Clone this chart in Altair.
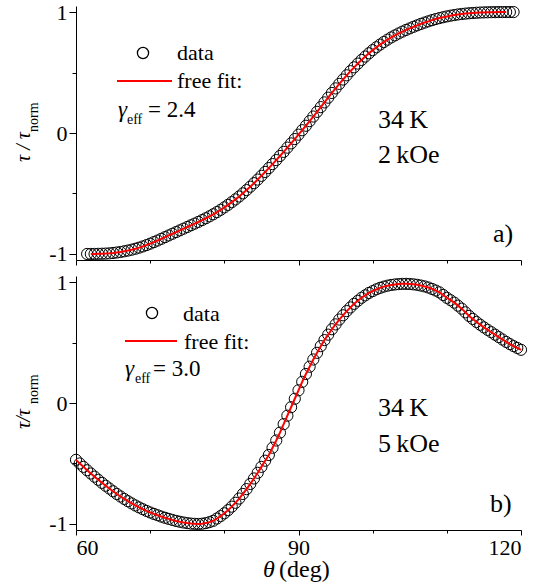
import altair as alt
import pandas as pd

FONT = "Liberation Serif"

# ---- panel a) 34 K, 2 kOe : theta grid starts at 61.5 deg, step 0.5 deg
theta_a_start = 61.5
tau_a = [
    -1.000, -1.000, -1.000, -0.999, -0.998, -0.997, -0.995, -0.992, -0.988, -0.984,
    -0.978, -0.972, -0.965, -0.957, -0.948, -0.938, -0.927, -0.915, -0.902, -0.889,
    -0.875, -0.861, -0.847, -0.833, -0.819, -0.805, -0.791, -0.777, -0.763, -0.749,
    -0.735, -0.720, -0.705, -0.689, -0.672, -0.654, -0.635, -0.615, -0.594, -0.572,
    -0.549, -0.525, -0.499, -0.472, -0.444, -0.415, -0.385, -0.354, -0.322, -0.290,
    -0.257, -0.224, -0.190, -0.156, -0.121, -0.086, -0.050, -0.014, 0.023, 0.060,
    0.098, 0.136, 0.175, 0.214, 0.253, 0.292, 0.331, 0.369, 0.406, 0.442,
    0.477, 0.511, 0.543, 0.574, 0.604, 0.632, 0.659, 0.685, 0.709, 0.731,
    0.752, 0.772, 0.790, 0.807, 0.823, 0.838, 0.852, 0.865, 0.878, 0.890,
    0.902, 0.913, 0.923, 0.933, 0.942, 0.950, 0.957, 0.964, 0.970, 0.975,
    0.980, 0.984, 0.987, 0.990, 0.992, 0.994, 0.996, 0.997, 0.998, 0.999,
    0.999, 1.000, 1.000, 1.000, 1.000, 1.000,
]
fit_a_range = [62.0, 118.0]

# ---- panel b) 34 K, 5 kOe : theta grid starts at 60 deg, step 0.5 deg
theta_b_start = 60.0
tau_b = [
    -0.470, -0.500, -0.528, -0.556, -0.583, -0.609, -0.635, -0.660, -0.684, -0.707,
    -0.730, -0.752, -0.773, -0.793, -0.812, -0.830, -0.847, -0.863, -0.878, -0.892,
    -0.905, -0.917, -0.928, -0.939, -0.949, -0.958, -0.967, -0.975, -0.982, -0.988,
    -0.993, -0.997, -0.999, -1.000, -0.998, -0.993, -0.985, -0.974, -0.955, -0.935,
    -0.912, -0.886, -0.857, -0.825, -0.790, -0.752, -0.712, -0.669, -0.624, -0.577,
    -0.528, -0.477, -0.430, -0.370, -0.310, -0.245, -0.175, -0.105, -0.035, 0.035,
    0.105, 0.175, 0.240, 0.300, 0.360, 0.415, 0.470, 0.520, 0.565, 0.610,
    0.650, 0.690, 0.725, 0.760, 0.790, 0.820, 0.845, 0.870, 0.890, 0.910,
    0.925, 0.940, 0.952, 0.962, 0.970, 0.976, 0.980, 0.983, 0.985, 0.985,
    0.984, 0.981, 0.977, 0.971, 0.964, 0.955, 0.943, 0.930, 0.915, 0.893,
    0.870, 0.850, 0.830, 0.805, 0.780, 0.750, 0.720, 0.695, 0.670, 0.647,
    0.625, 0.605, 0.585, 0.565, 0.545, 0.525, 0.505, 0.487, 0.470, 0.455,
    0.440,
]
fit_b_range = [60.0, 120.0]

x_ticks = [60, 70, 80, 90, 100, 110, 120]
y_ticks = [-1, -0.5, 0, 0.5, 1]

legend_labels = ["data", "free fit:"]
gamma_a = "= 2.4"
gamma_b = "= 3.0"
cond_a = ["34\u2009K", "2\u2009kOe"]
cond_b = ["34\u2009K", "5\u2009kOe"]

W, H = 445, 254
one = pd.DataFrame({"d": [0]})


def txt(text, x, y, size, italic=False, angle=0):
    # x, y give the text baseline start; marks use the default middle baseline,
    # whose baseline sits 0.3*size below (or, rotated, to the right of) the anchor
    kw = dict(text=text, font=FONT, fontSize=size, align="left", color="black")
    if italic:
        kw["fontStyle"] = "italic"
    if angle:
        kw["angle"] = angle
        x = x - 0.3 * size
    else:
        y = y - 0.3 * size
    return alt.Chart(one).mark_text(**kw).encode(x=alt.value(x), y=alt.value(y))


def anchor(x, y):
    # invisible zero-length rule that fixes the page bounds
    return alt.Chart(one).mark_rule(opacity=0, strokeWidth=0).encode(
        x=alt.value(x), x2=alt.value(x), y=alt.value(y), y2=alt.value(y))


def panel(theta_start, tau, fit_range, leg, gamma_txt, cond, tag, bottom):
    theta = [theta_start + 0.5 * i for i in range(len(tau))]
    df = pd.DataFrame({"theta": theta, "tau": tau})
    xaxis = alt.Axis(
        values=x_ticks, title=None, domainColor="black", domainWidth=1,
        tickColor="black", tickWidth=1,
        tickSize={"condition": {"test": "datum.value % 30 != 0", "value": 3}, "value": 5},
        labels=bottom, labelFont=FONT, labelFontSize=22, labelColor="black",
        labelExpr="datum.value % 30 == 0 ? datum.label : ''", labelPadding=2,
        grid=False,
    )
    yaxis = alt.Axis(
        values=y_ticks, title=None, domainColor="black", domainWidth=1,
        tickColor="black", tickWidth=1,
        tickSize={"condition": {"test": "datum.value % 1 != 0", "value": 4}, "value": 7},
        labelFont=FONT, labelFontSize=22, labelColor="black",
        labelExpr="datum.value == -1 ? '-1' : (datum.value == 0 ? '0' : (datum.value == 1 ? '1' : ''))",
        labelPadding=2, grid=False,
    )
    xs = alt.X("theta:Q", scale=alt.Scale(domain=[60, 120], nice=False, zero=False), axis=xaxis)
    ys = alt.Y("tau:Q", scale=alt.Scale(domain=[-1.05, 1.05], nice=False, zero=False), axis=yaxis)

    pts = alt.Chart(df).mark_point(shape="circle", filled=False, color="black",
                                   size=125, strokeWidth=1, opacity=1).encode(x=xs, y=ys)
    fit = alt.Chart(df).transform_filter(
        (alt.datum.theta >= fit_range[0]) & (alt.datum.theta <= fit_range[1])
    ).mark_line(color="#ff0000", strokeWidth=2).encode(x=xs, y=ys)

    layers = [pts, fit]
    (cx, cy), (dx, dy), (rx1, rx2, ry), (fx, fy), (gx, gy), (ex, ey), (qx, qy) = leg
    layers.append(alt.Chart(one).mark_point(shape="circle", filled=False, color="black",
                                            size=125, strokeWidth=1.3, opacity=1)
                  .encode(x=alt.value(cx), y=alt.value(cy)))
    layers.append(txt(legend_labels[0], dx, dy, 22))
    layers.append(alt.Chart(one).mark_rule(color="#ff0000", strokeWidth=2)
                  .encode(x=alt.value(rx1), x2=alt.value(rx2), y=alt.value(ry)))
    layers.append(txt(legend_labels[1], fx, fy, 22))
    layers.append(txt("γ", gx, gy, 23, italic=True))
    layers.append(txt("eff", ex, ey, 14))
    layers.append(txt(gamma_txt, qx, qy, 23))
    layers.append(txt(cond[0], 302, cond[2], 26))
    layers.append(txt(cond[1], 302, cond[3], 26))
    layers.append(txt(tag[0], tag[1], tag[2], 26))
    # y-axis title  tau / tau_norm
    layers.append(txt(tag[3], -46, tag[4], 20, italic=True, angle=270))
    layers.append(txt("norm", -38, tag[5], 14, angle=270))
    if bottom:
        layers.append(txt("θ", 187, 301, 24, italic=True))
        layers.append(txt("(deg)", 203, 301, 24))
        layers.append(anchor(463, 307))
    else:
        layers.append(anchor(-76, -6))
    return alt.layer(*layers).properties(width=W, height=H)


top = panel(
    theta_a_start, tau_a, fit_a_range,
    [(67, 47), (101, 54), (41, 96, 75), (101, 82), (42, 111), (51, 118), (72, 111)],
    gamma_a, [cond_a[0], cond_a[1], 122, 157], ("a)", 417, 236, "τ / τ", 156, 126), False,
)
bot = panel(
    theta_b_start, tau_b, fit_b_range,
    [(76, 37), (107, 45), (49, 101, 65), (108, 73), (49, 100), (59, 107), (77, 100)],
    gamma_b, [cond_b[0], cond_b[1], 140, 176], ("b)", 414, 236, "τ/τ", 153, 128), True,
)

chart = alt.vconcat(top, bot, spacing=16, bounds="flush").properties(
    padding=0,
).configure_view(strokeWidth=0)

chart.save("out.html", embed_options={"renderer": "svg", "actions": False})
